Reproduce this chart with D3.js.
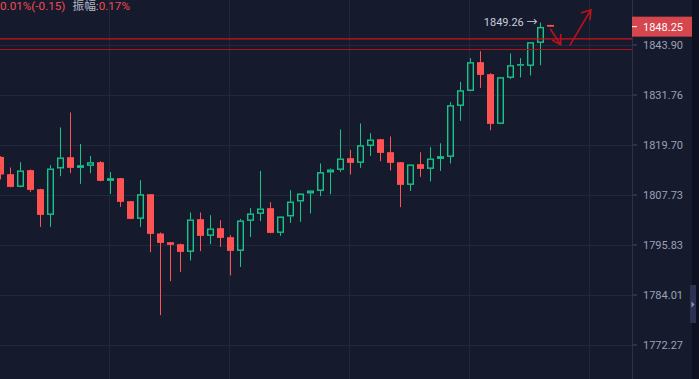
<!DOCTYPE html>
<html>
<head>
<meta charset="utf-8">
<script src="https://cdn.jsdelivr.net/npm/d3@7"></script>
<style>
  html, body { margin: 0; padding: 0; background: #161a2d; overflow: hidden; }
  svg { display: block; font-family: Roboto, "Noto Sans CJK SC", sans-serif; }
</style>
</head>
<body>
<div id="chart"></div>
<script>
// candle values, oldest first
const opens  = [1816.73,1812.59,1809.55,1813.55,1809.00,1802.87,1813.95,1816.66,1814.10,1814.58,
                1815.46,1810.99,1811.63,1806.14,1801.92,1807.80,1798.45,1796.38,1795.90,1794.08,
                1801.85,1797.88,1799.71,1797.57,1794.32,1801.45,1803.11,1804.47,1798.59,1802.49,
                1806.06,1807.97,1808.59,1813.00,1813.62,1816.42,1815.30,1819.36,1820.98,1817.86,
                1815.46,1810.03,1814.98,1813.86,1816.25,1816.73,1829.01,1832.63,1839.60,1836.69,
                1824.67,1835.79,1838.80,1838.70,1844.29,1848.67];
const highs  = [1816.90,1814.19,1815.46,1813.71,1809.10,1814.74,1823.80,1827.42,1819.84,1816.97,
                1815.70,1813.07,1811.70,1806.20,1811.15,1807.85,1798.69,1796.45,1796.07,1803.45,
                1803.45,1802.80,1801.61,1798.04,1801.92,1804.47,1813.38,1805.90,1802.55,1808.76,
                1808.00,1808.75,1815.15,1813.95,1823.32,1818.41,1824.77,1822.43,1821.05,1821.63,
                1815.50,1814.95,1817.86,1819.05,1820.01,1829.90,1834.82,1840.57,1842.27,1836.93,
                1836.00,1841.71,1840.57,1844.50,1849.26,1848.67];
const lows   = [1811.32,1809.45,1809.45,1808.35,1800.02,1800.02,1812.11,1812.83,1810.27,1812.83,
                1810.90,1807.87,1804.78,1801.85,1800.02,1794.01,1779.15,1787.15,1789.35,1792.05,
                1794.25,1795.90,1795.26,1788.50,1790.53,1797.64,1801.38,1798.50,1797.88,1800.97,
                1801.21,1803.21,1807.33,1807.80,1813.14,1812.52,1814.10,1816.97,1815.70,1813.48,
                1804.71,1808.59,1811.94,1810.84,1813.38,1815.15,1825.39,1832.55,1833.36,1823.15,
                1824.60,1835.55,1835.89,1836.37,1838.87,1848.25];
const closes = [1812.52,1809.55,1813.48,1808.83,1802.87,1813.95,1816.59,1814.10,1814.74,1815.46,
                1810.99,1811.63,1805.97,1801.92,1807.80,1798.35,1796.21,1795.74,1794.08,1801.78,
                1797.88,1799.64,1797.40,1794.32,1801.54,1803.21,1804.40,1798.59,1802.49,1806.06,
                1807.97,1808.69,1813.07,1813.71,1816.35,1815.30,1819.53,1820.91,1817.69,1815.30,
                1810.03,1814.91,1813.86,1816.35,1816.90,1829.18,1832.80,1839.60,1836.52,1824.67,
                1835.96,1838.87,1839.12,1844.46,1848.18,1848.25];

const yTicks = [1843.90, 1831.76, 1819.70, 1807.73, 1795.83, 1784.01, 1772.27];
const timeGrid = [10.9, 22.9, 34.9, 46.9, 58.9];
const levels = [1845.26, 1842.69];
const lastPrice = 1848.25;
const highMark = 1849.26;
const highIndex = 54;
// hand drawn arrows, [index, price] points: shaft then two head arms
const arrows = [
  { shaft: [[55.02, 1847.55], [56.02, 1843.80]], head: [[56.02, 1846.33], [55.22, 1844.95]] },
  { shaft: [[56.95, 1843.73], [59.05, 1852.41]], head: [[58.12, 1851.63], [58.95, 1849.98]] }
];

const w = 699, h = 379;
const plotRight = 632;
const up = '#17c58b', down = '#ff5252';
const bg = '#161a2d', gridColor = '#22273a';

const data = opens.map((o, i) => ({ i: i, o: o, h: highs[i], l: lows[i], c: closes[i] }));

const x = d3.scaleLinear().domain([0, 55]).range([0.5, 550.5]);
const y = d3.scaleLog().domain([1843.90, 1772.27]).range([44.5, 344.5]);

const svg = d3.select('#chart').append('svg')
  .attr('width', w)
  .attr('height', h);

svg.append('rect').attr('width', w).attr('height', h).attr('fill', bg);

const plot = svg.append('g');

// grid
plot.selectAll('.hgrid')
  .data(yTicks)
  .enter()
  .append('line')
  .attr('x1', 0).attr('x2', plotRight)
  .attr('y1', (d) => Math.round(y(d)) + 0.5)
  .attr('y2', (d) => Math.round(y(d)) + 0.5)
  .attr('stroke', gridColor);

plot.selectAll('.vgrid')
  .data(timeGrid)
  .enter()
  .append('line')
  .attr('x1', (d) => x(d)).attr('x2', (d) => x(d))
  .attr('y1', 0).attr('y2', h)
  .attr('stroke', gridColor);

// candles
const candle = plot.selectAll('.candle')
  .data(data)
  .enter()
  .append('g');

candle.each(function(d) {
  const g = d3.select(this);
  const cx = x(d.i);
  const top = y(Math.max(d.o, d.c));
  const bot = y(Math.min(d.o, d.c));
  if (d.c >= d.o) {
    g.append('line').attr('x1', cx).attr('x2', cx)
      .attr('y1', y(d.h)).attr('y2', top).attr('stroke', up);
    g.append('line').attr('x1', cx).attr('x2', cx)
      .attr('y1', bot).attr('y2', y(d.l)).attr('stroke', up);
    g.append('rect')
      .attr('x', cx - 2.8)
      .attr('y', top + 0.7)
      .attr('width', 5.6)
      .attr('height', Math.max(0.1, bot - top - 1.4))
      .attr('fill', 'none')
      .attr('stroke', up)
      .attr('stroke-width', 1.4);
  } else {
    g.append('line').attr('x1', cx).attr('x2', cx)
      .attr('y1', y(d.h)).attr('y2', y(d.l)).attr('stroke', down);
    g.append('rect')
      .attr('x', cx - 3.5)
      .attr('y', top)
      .attr('width', 7)
      .attr('height', Math.max(1.5, bot - top))
      .attr('fill', down);
  }
});

// red level lines
plot.selectAll('.level')
  .data(levels)
  .enter()
  .append('line')
  .attr('x1', 0).attr('x2', plotRight)
  .attr('y1', (d) => y(d)).attr('y2', (d) => y(d))
  .attr('stroke', (d, i) => i === 0 ? '#d0121c' : '#b40f18')
  .attr('stroke-width', 1.1);

// arrows
const pt = (p) => [x(p[0]), y(p[1])];
arrows.forEach((a) => {
  const s0 = pt(a.shaft[0]), s1 = pt(a.shaft[1]);
  const h0 = pt(a.head[0]), h1 = pt(a.head[1]);
  plot.append('path')
    .attr('d', 'M' + s0 + 'L' + s1 + 'M' + h0 + 'L' + s1 + 'L' + h1)
    .attr('fill', 'none')
    .attr('stroke', '#be111c')
    .attr('stroke-width', 1.6)
    .attr('stroke-linecap', 'round')
    .attr('stroke-linejoin', 'round');
});

// high marker
plot.append('text')
  .attr('x', x(highIndex) - 3)
  .attr('y', y(highMark))
  .attr('dy', '0.35em')
  .attr('text-anchor', 'end')
  .attr('font-size', 11)
  .attr('fill', '#c9cdd9')
  .text(d3.format('.2f')(highMark) + ' \u2192');

// header text
const head = svg.append('text')
  .attr('x', 0)
  .attr('y', 9.5)
  .attr('font-size', 11.7);
head.append('tspan').attr('fill', '#f04b50').text('0.01%(-0.15)');
head.append('tspan').attr('fill', '#b3b7c6').attr('dx', 7).text('振幅:');
head.append('tspan').attr('fill', '#f04b50').text('0.17%');

// right axis
const axisG = svg.append('g')
  .attr('transform', 'translate(' + plotRight + ',0)')
  .call(d3.axisRight(y).tickValues(yTicks).tickSize(5).tickPadding(6).tickFormat(d3.format('.2f')));
axisG.select('.domain').remove();
axisG.selectAll('.tick line').attr('stroke', '#454b68');
axisG.selectAll('.tick text')
  .attr('fill', '#9ba1b6')
  .attr('font-size', 11)
  .attr('font-family', 'Roboto, sans-serif');

svg.append('line')
  .attr('x1', plotRight + 0.5).attr('x2', plotRight + 0.5)
  .attr('y1', 0).attr('y2', h)
  .attr('stroke', '#2b3150');

// last price tag
const tag = svg.append('g').attr('transform', 'translate(' + plotRight + ',' + y(lastPrice) + ')');
tag.append('rect')
  .attr('x', 0).attr('y', -10)
  .attr('width', 60).attr('height', 20)
  .attr('fill', '#d5464e');
tag.append('line')
  .attr('x1', 0).attr('x2', 5)
  .attr('stroke', '#ffffff');
tag.append('text')
  .attr('x', 11)
  .attr('dy', '0.35em')
  .attr('font-size', 11)
  .attr('fill', '#ffffff')
  .text(d3.format('.2f')(lastPrice));

// scroll strip and handle
svg.append('rect')
  .attr('x', 692).attr('y', 0)
  .attr('width', 7).attr('height', h)
  .attr('fill', '#0f1120');
svg.append('rect')
  .attr('x', 690).attr('y', 285)
  .attr('width', 6).attr('height', 38)
  .attr('fill', '#2b3150');
svg.append('path')
  .attr('d', 'M691.5,301.5L694.5,304.5L691.5,307.5Z')
  .attr('fill', '#8b93b3');
</script>
</body>
</html>
